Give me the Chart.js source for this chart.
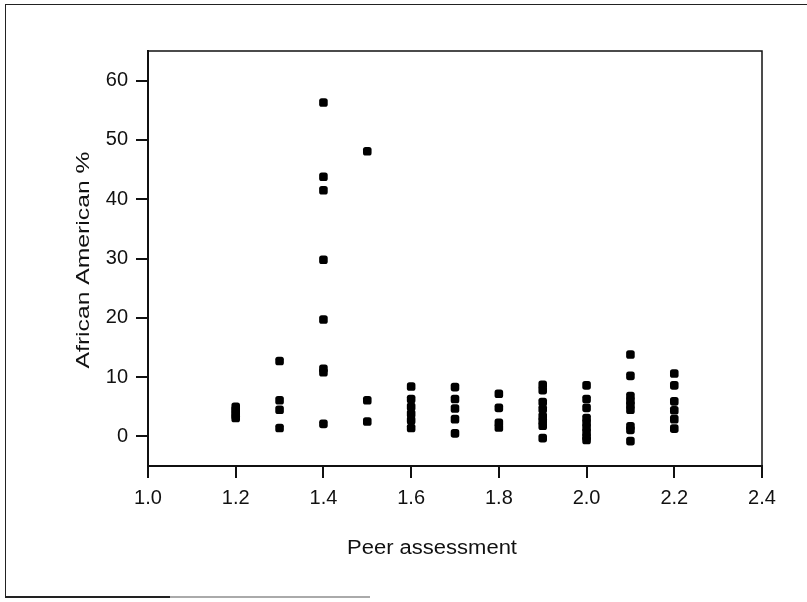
<!DOCTYPE html>
<html>
<head>
<meta charset="utf-8">
<script src="https://cdn.jsdelivr.net/npm/chart.js@4"></script>
<style>
  html, body { margin: 0; padding: 0; background: #fff; }
  #wrap { position: relative; width: 807px; height: 602px; overflow: hidden; }
  #chart { position: absolute; left: 0; top: 0; }
  .frame { position: absolute; left: 5px; top: 4px; width: 810px; height: 593px;
           border-left: 1.5px solid #222; border-top: 1.5px solid #222; }
  .base-dark { position: absolute; left: 5px; top: 596px; width: 165px; height: 1.5px; background: #222; }
  .base-light { position: absolute; left: 170px; top: 596px; width: 200px; height: 1.5px; background: #aaa; }
</style>
</head>
<body>
<div id="wrap">
  <div class="frame"></div>
  <div class="base-dark"></div>
  <div class="base-light"></div>
  <canvas id="chart" width="807" height="602"></canvas>
</div>
<script>
/* ---- Data: African American % by peer assessment score ---- */
const peerScores = [1.2, 1.3, 1.4, 1.5, 1.6, 1.7, 1.8, 1.9, 2.0, 2.1, 2.2];

const pct12 = [5.0, 4.5, 4.0, 3.5, 3.1];
const pct13 = [12.7, 6.1, 4.5, 1.4];
const pct14 = [56.3, 43.8, 41.5, 29.8, 19.7, 11.4, 10.8, 2.1];
const pct15 = [48.1, 6.1, 2.5];
const pct16 = [8.4, 6.3, 5.0, 3.8, 2.7, 1.4];
const pct17 = [8.3, 6.3, 4.7, 2.9, 0.5];
const pct18 = [7.2, 4.8, 2.3, 1.5];
const pct19 = [8.7, 7.8, 5.8, 4.6, 3.4, 2.6, 1.8, -0.3];
const pct20 = [8.6, 6.3, 4.8, 3.1, 2.3, 1.5, 0.7, -0.1, -0.6];
const pct21 = [13.8, 10.2, 6.8, 6.0, 5.3, 4.5, 1.7, 1.1, -0.8];
const pct22 = [10.6, 8.6, 5.9, 4.4, 2.9, 1.3];

const pctByScore = [pct12, pct13, pct14, pct15, pct16, pct17, pct18, pct19, pct20, pct21, pct22];

const xTicks = [1.0, 1.2, 1.4, 1.6, 1.8, 2.0, 2.2, 2.4];
const yTicks = [0, 10, 20, 30, 40, 50, 60];

const xTitle = 'Peer assessment';
const yTitle = 'African American %';

const points = [];
peerScores.forEach((x, i) => {
  for (const y of pctByScore[i]) points.push({ x, y });
});

const FONT = '"Liberation Sans", Arial, sans-serif';

/* ---- Plot frame (top/right border) + axis titles ---- */
const framePlugin = {
  id: 'frame',
  afterDraw(chart) {
    const { ctx, chartArea: a } = chart;
    ctx.save();
    ctx.strokeStyle = '#111';
    ctx.lineWidth = 1.5;
    ctx.strokeRect(a.left, a.top, a.right - a.left, a.bottom - a.top);

    ctx.fillStyle = '#111';
    ctx.textAlign = 'center';
    ctx.textBaseline = 'middle';

    // x title, slightly stretched like the scanned original
    ctx.save();
    ctx.font = '20px ' + FONT;
    ctx.translate(432, 548);
    ctx.scale(1.1, 1);
    ctx.fillText(xTitle, 0, 0);
    ctx.restore();

    // y title, rotated and stretched along the text
    ctx.save();
    ctx.font = '19px ' + FONT;
    ctx.translate(84, 260);
    ctx.rotate(-Math.PI / 2);
    ctx.scale(1.3, 1);
    ctx.fillText(yTitle, 0, 0);
    ctx.restore();

    ctx.restore();
  },
};

const tickFont = { family: FONT, size: 20 };

new Chart(document.getElementById('chart'), {
  type: 'scatter',
  data: {
    datasets: [{
      data: points,
      pointStyle: 'rectRounded',
      pointRadius: 5,
      backgroundColor: '#000',
      borderWidth: 0,
    }],
  },
  options: {
    responsive: false,
    animation: false,
    layout: { padding: { top: 51, right: 45, left: 0, bottom: 0 } },
    plugins: { legend: { display: false }, tooltip: { enabled: false } },
    scales: {
      x: {
        type: 'linear',
        min: 1.0,
        max: 2.4,
        afterBuildTicks: (s) => { s.ticks = xTicks.map((v) => ({ value: v })); },
        afterFit: (s) => { s.height = 136; },
        ticks: {
          color: '#111',
          font: tickFont,
          padding: 8,
          callback: (v) => Number(v).toFixed(1),
        },
        grid: { drawOnChartArea: false, drawTicks: true, tickLength: 12, color: '#111', lineWidth: 2 },
        border: { color: '#111', width: 2 },
      },
      y: {
        type: 'linear',
        min: -5,
        max: 65,
        afterBuildTicks: (s) => { s.ticks = yTicks.map((v) => ({ value: v })); },
        afterFit: (s) => { s.width = 148; },
        ticks: { color: '#111', font: tickFont, padding: 8 },
        grid: { drawOnChartArea: false, drawTicks: true, tickLength: 12, color: '#111', lineWidth: 2 },
        border: { color: '#111', width: 2 },
      },
    },
  },
  plugins: [framePlugin],
});
</script>
</body>
</html>
